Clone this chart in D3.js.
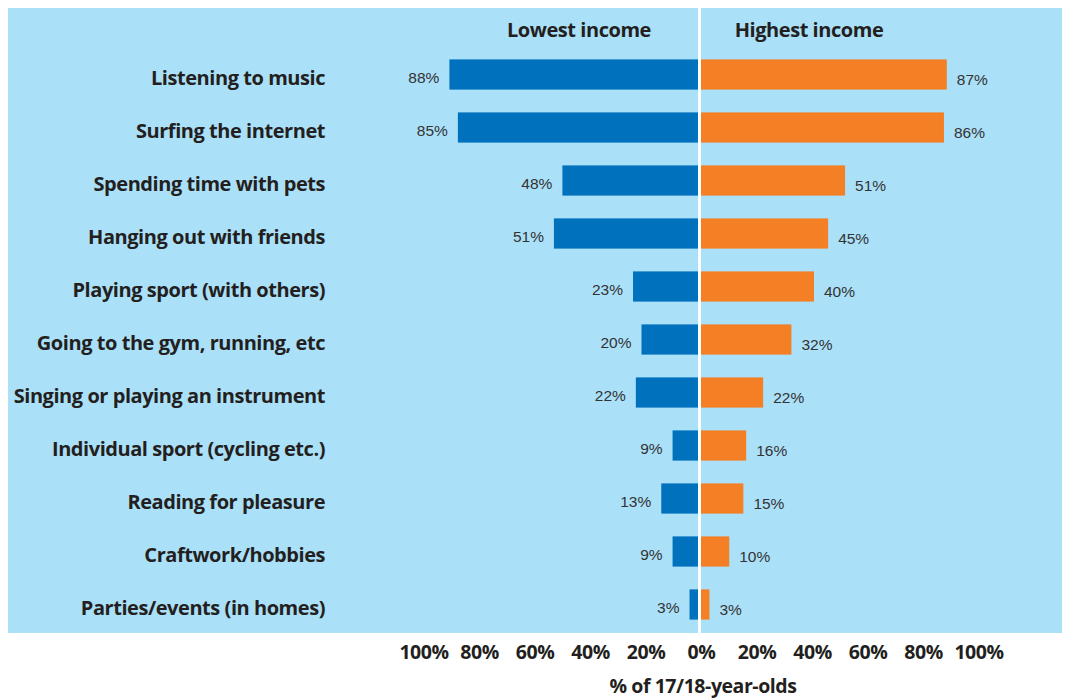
<!DOCTYPE html>
<html><head><meta charset="utf-8">
<script src="https://cdn.jsdelivr.net/npm/d3@7"></script>
<style>
body{margin:0;background:#fff;}
svg{display:block;}
</style></head>
<body>
<svg id="c" width="1070" height="699"></svg>
<script>
const categories = ["Listening to music","Surfing the internet","Spending time with pets","Hanging out with friends","Playing sport (with others)","Going to the gym, running, etc","Singing or playing an instrument","Individual sport (cycling etc.)","Reading for pleasure","Craftwork/hobbies","Parties/events (in homes)"];
const lowestIncome = [88,85,48,51,23,20,22,9,13,9,3];
const highestIncome = [87,86,51,45,40,32,22,16,15,10,3];
const seriesNames = ["Lowest income","Highest income"];
const tickValues = [-100,-80,-60,-40,-20,0,20,40,60,80,100];
const axisTitle = "% of 17/18-year-olds";

const svg = d3.select("#c");
const cx = 699.5;
const boldFont = "'Open Sans', 'Noto Sans', sans-serif";
const valFont = "'Liberation Sans', Arial, sans-serif";
const dark = "#231f20";
const LS = -0.45;

svg.append("rect").attr("x",8).attr("y",8).attr("width",1054).attr("height",625).attr("fill","#abe0f9");

const xL = d3.scaleLinear().domain([0,100]).range([cx-1.5, cx-1.5-282.5]);
const xR = d3.scaleLinear().domain([0,100]).range([cx+1.5, cx+1.5+282.5]);
const y = d3.scaleBand().domain(categories).range([48, 631]).paddingInner(0.43).paddingOuter(0.215);

const g = svg.append("g");
g.selectAll("rect.low").data(categories).join("rect").attr("class","low")
  .attr("x",(d,i)=>xL(lowestIncome[i])).attr("y",d=>y(d))
  .attr("width",(d,i)=>xL(0)-xL(lowestIncome[i])).attr("height",y.bandwidth())
  .attr("fill","#0071bc");
g.selectAll("rect.high").data(categories).join("rect").attr("class","high")
  .attr("x",xR(0)).attr("y",d=>y(d))
  .attr("width",(d,i)=>xR(highestIncome[i])-xR(0)).attr("height",y.bandwidth())
  .attr("fill","#f47f24");

svg.append("line").attr("x1",cx).attr("x2",cx).attr("y1",8).attr("y2",633).attr("stroke","#fff").attr("stroke-width",3);

g.selectAll("text.lv").data(categories).join("text").attr("class","lv")
  .attr("x",(d,i)=>xL(lowestIncome[i])-10).attr("y",d=>y(d)+y.bandwidth()/2+4)
  .attr("text-anchor","end").attr("dominant-baseline","middle")
  .attr("font-family",valFont).attr("font-size",15.5).attr("fill","#333")
  .text((d,i)=>lowestIncome[i]+"%");
g.selectAll("text.hv").data(categories).join("text").attr("class","hv")
  .attr("x",(d,i)=>xR(highestIncome[i])+10).attr("y",d=>y(d)+y.bandwidth()/2+6)
  .attr("text-anchor","start").attr("dominant-baseline","middle")
  .attr("font-family",valFont).attr("font-size",15.5).attr("fill","#333")
  .text((d,i)=>highestIncome[i]+"%");

const catG = svg.append("g").attr("transform","translate(325,0)");
catG.call(d3.axisLeft(y).tickSize(0).tickPadding(0));
catG.select(".domain").remove();
catG.selectAll("text").attr("font-family",boldFont).attr("font-weight",700).attr("font-size",20)
  .attr("letter-spacing",LS).attr("fill",dark).attr("dy","0.35em").attr("y",3);

[[579,seriesNames[0]],[809,seriesNames[1]]].forEach(([x,t])=>{
  svg.append("text").attr("x",x).attr("y",32).attr("text-anchor","middle").attr("dominant-baseline","middle")
    .attr("font-family",boldFont).attr("font-weight",700).attr("font-size",20).attr("letter-spacing",LS)
    .attr("fill",dark).text(t);
});

const xA = d3.scaleLinear().domain([-100,100]).range([cx-276, cx+279]);
const axG = svg.append("g").attr("transform","translate(0,652)");
axG.call(d3.axisBottom(xA).tickValues(tickValues).tickSize(0).tickPadding(0).tickFormat(d=>Math.abs(d)+"%"));
axG.select(".domain").remove();
axG.selectAll("text").attr("font-family",boldFont).attr("font-weight",700).attr("font-size",19.5)
  .attr("letter-spacing",LS).attr("fill",dark).attr("dy","0.35em").attr("y",0);

svg.append("text").attr("x",703).attr("y",688).attr("text-anchor","middle").attr("dominant-baseline","middle")
  .attr("font-family",boldFont).attr("font-weight",700).attr("font-size",19.5).attr("letter-spacing",LS)
  .attr("fill",dark).text(axisTitle);
</script>
</body></html>
